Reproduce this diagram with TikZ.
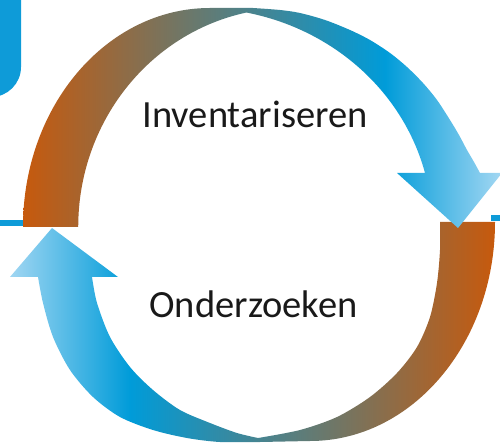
\documentclass[tikz,border=0pt]{standalone}
\usepackage{fontspec}
\setmainfont{Carlito}
\definecolor{ppblue}{RGB}{14,155,216}
\pgfdeclarehorizontalshading{topgrad}{100bp}{rgb(0bp)=(0.78,0.35,0.05); rgb(27.3bp)=(0.78,0.35,0.05); rgb(63.5bp)=(0.0,0.61,0.85); rgb(75bp)=(0.63,0.84,0.95); rgb(100bp)=(0.63,0.84,0.95)}
\pgfdeclarehorizontalshading{botgrad}{100bp}{rgb(0bp)=(0.63,0.84,0.95); rgb(26bp)=(0.63,0.84,0.95); rgb(38bp)=(0.0,0.61,0.85); rgb(74.5bp)=(0.78,0.35,0.05); rgb(100bp)=(0.78,0.35,0.05)}
\tikzset{labeltext/.style={anchor=base, inner sep=0pt, text=black!90, font=\fontsize{38.5}{42}\selectfont}}
\begin{document}
\begin{tikzpicture}[x=1pt,y=-1pt]
\useasboundingbox (0,0) rectangle (500,443);
\clip (0,0) rectangle (500,443);
\fill[ppblue, rounded corners=30pt] (-60,-60) rectangle (21,97);
\draw[ppblue, line width=5.5pt] (0,223) -- (24,223);
\draw[ppblue, line width=6pt] (491,218.3) -- (501,218.3);
% bottom arrow
\begin{scope}
\clip (440,222) -- (495,222)
  arc[start angle=0, end angle=90, x radius=185, y radius=219]
  -- plot[smooth] coordinates {(260,442)(220,442)(187,438)(153,430)(120,417)(93,397)(70,370)(53,337)(43,303)(38,277)}
  -- (10,277) -- (52,228) -- (118,277) -- (92,277)
  -- plot[smooth] coordinates {(92,277)(97,303)(110,337)(130,367)(153,390)(180,410)(210,423)(237,433)(258,438)}
  -- plot[smooth] coordinates {(258,438)(300,430)(337,417)(370,397)(397,373)(417,347)(430,317)(437,283)(440,250)(440,222)}
  -- cycle;
\shade[shading=botgrad] (0,0) rectangle (500,443);
\end{scope}
% top arrow
\begin{scope}
\clip (23,227) arc[start angle=180, end angle=270, x radius=187, y radius=219]
  -- (253,8)
  -- plot[smooth] coordinates {(253,8)(280,10)(300,13)(325,20)(350,30)(370,40)(390,53)(407,67)(423,83)(437,100)(450,120)(459,135)(467,150)(474,162)(480,173)}
  -- (502,173) -- (458,228) -- (397,173) -- (425,173)
  arc[start angle=345.73, end angle=281.7, x radius=233, y radius=219]
  arc[start angle=258.3, end angle=180, x radius=211, y radius=219]
  -- cycle;
\shade[shading=topgrad] (0,0) rectangle (500,443);
\end{scope}
\node[labeltext] (inv) at (255,128) {Inventariseren};
\node[labeltext] (ond) at (253.5,317) {Onderzoeken};
\end{tikzpicture}
\end{document}
